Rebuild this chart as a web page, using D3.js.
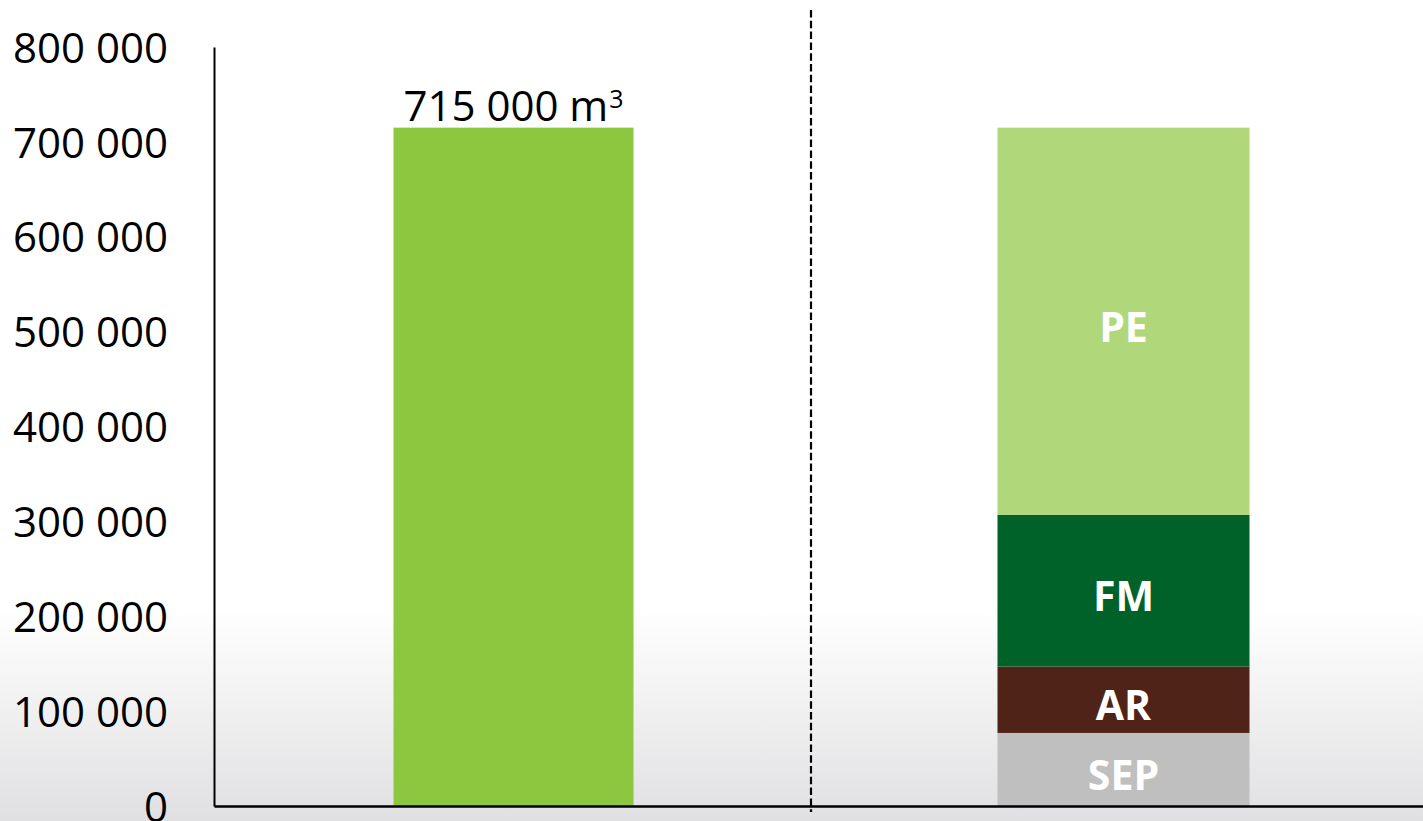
<!DOCTYPE html>
<html>
<head>
<meta charset="utf-8">
<script src="https://cdn.jsdelivr.net/npm/d3@7"></script>
<style>
  html, body { margin: 0; padding: 0; }
  body { width: 1423px; height: 821px; overflow: hidden; }
  svg { display: block; font-family: "Open Sans", sans-serif; }
</style>
</head>
<body>
<div id="chart"></div>
<script>
// data
const categories = ["Total", "Répartition"];
const totalValues = [715000];
const stackKeys = ["SEP", "AR", "FM", "PE"];
const stackValues = [77000, 70000, 160000, 408000];
const yTicks = [0, 100000, 200000, 300000, 400000, 500000, 600000, 700000, 800000];
const totalLabel = "715 000 m";
const totalUnitSup = "3";

const colors = { total: "#8dc63f", SEP: "#bfbfbf", AR: "#4f2318", FM: "#006228", PE: "#b1d77b" };

const width = 1423, height = 821;
const margin = { top: 47, right: 0, bottom: 15, left: 214 };
const barWidths = [240, 252];
const dividerX = 811;

const svg = d3.select("#chart").append("svg")
    .attr("width", width)
    .attr("height", height);

// background fade at the bottom
const grad = svg.append("defs").append("linearGradient")
    .attr("id", "bg").attr("x1", 0).attr("y1", 0).attr("x2", 0).attr("y2", 1);
grad.append("stop").attr("offset", "0.74").attr("stop-color", "#ffffff");
grad.append("stop").attr("offset", "1").attr("stop-color", "#e0e0e2");
svg.append("rect").attr("width", width).attr("height", height).attr("fill", "url(#bg)");

const x = d3.scaleBand()
    .domain(categories)
    .range([margin.left, width - margin.right])
    .paddingInner(0.597)
    .paddingOuter(0.2895);

// zero sits at y≈806
const y = d3.scaleLinear()
    .domain([0, 800000])
    .range([806, margin.top]);

const fmt = d3.formatLocale({ decimal: ",", thousands: " ", grouping: [3], currency: ["", ""] }).format(",d");

function barX(i) {
    return x(categories[i]) + x.bandwidth() / 2 - barWidths[i] / 2;
}

// left bar: total
svg.append("g").selectAll("rect")
    .data(totalValues)
    .join("rect")
    .attr("x", barX(0))
    .attr("width", barWidths[0])
    .attr("y", d => y(d))
    .attr("height", d => y(0) - y(d))
    .attr("fill", colors.total);

const lbl = svg.append("text")
    .attr("x", x(categories[0]) + x.bandwidth() / 2)
    .attr("y", y(totalValues[0]) - 7)
    .attr("text-anchor", "middle")
    .attr("font-size", 42)
    .attr("fill", "#000");
lbl.append("tspan").text(totalLabel);
lbl.append("tspan")
    .attr("font-size", 25)
    .attr("dy", -13)
    .attr("dx", 1)
    .text(totalUnitSup);

// right bar: stacked split
const row = {};
stackKeys.forEach((k, i) => row[k] = stackValues[i]);
const series = d3.stack().keys(stackKeys)([row]);

const seg = svg.append("g").selectAll("g")
    .data(series)
    .join("g");

seg.append("rect")
    .attr("x", barX(1))
    .attr("width", barWidths[1])
    .attr("y", d => y(d[0][1]))
    .attr("height", d => y(d[0][0]) - y(d[0][1]))
    .attr("fill", d => colors[d.key]);

seg.append("text")
    .attr("x", x(categories[1]) + x.bandwidth() / 2)
    .attr("y", d => (y(d[0][0]) + y(d[0][1])) / 2 + 6)
    .attr("dy", "0.35em")
    .attr("text-anchor", "middle")
    .attr("font-size", 41)
    .attr("font-weight", "bold")
    .attr("fill", "#fff")
    .text(d => d.key);

// y axis
const yAxis = svg.append("g")
    .attr("transform", `translate(${margin.left},0)`)
    .call(d3.axisLeft(y).tickValues(yTicks).tickFormat(fmt).tickSize(0).tickPadding(46).tickSizeOuter(0));
yAxis.select(".domain").attr("stroke", "#000").attr("stroke-width", 2);
yAxis.selectAll("text").attr("font-size", 42).attr("font-family", "Open Sans, sans-serif").attr("fill", "#000").attr("dy", "0.36em");

// x axis line
const xAxis = svg.append("g")
    .attr("transform", `translate(0,${y(0)})`)
    .call(d3.axisBottom(x).tickValues([]).tickSizeOuter(0));
xAxis.select(".domain").attr("stroke", "#000").attr("stroke-width", 2.5);

// dashed divider
svg.append("line")
    .attr("x1", dividerX).attr("x2", dividerX)
    .attr("y1", 10).attr("y2", y(0) + 6)
    .attr("stroke", "#000")
    .attr("stroke-width", 2.2)
    .attr("stroke-dasharray", "7.5,3.3");
</script>
</body>
</html>
